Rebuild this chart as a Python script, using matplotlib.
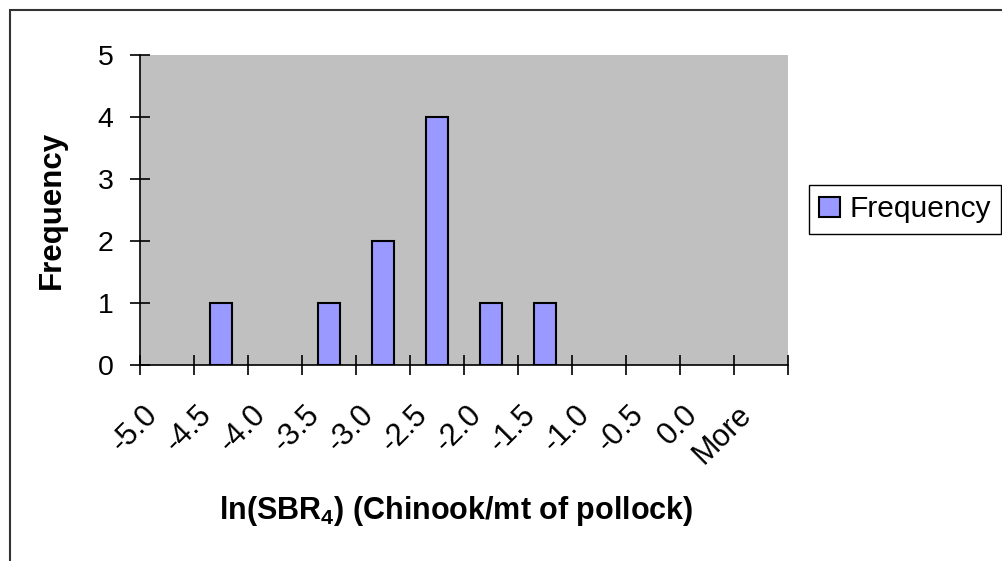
import numpy as np
import matplotlib
matplotlib.use("Agg")
import matplotlib.pyplot as plt
import matplotlib.transforms as mtransforms
from matplotlib.patches import Rectangle, Patch

plt.rcParams['font.family'] = ['Liberation Sans', 'DejaVu Sans']
plt.rcParams['mathtext.fontset'] = 'custom'
plt.rcParams['mathtext.rm'] = 'Liberation Sans'
plt.rcParams['mathtext.bf'] = 'Liberation Sans:bold'

# 数据
bins = ['-5.0', '-4.5', '-4.0', '-3.5', '-3.0', '-2.5', '-2.0', '-1.5', '-1.0', '-0.5', '0.0', 'More']
freq = [0, 1, 0, 1, 2, 4, 1, 1, 0, 0, 0, 0]

W, H = 1003, 561
fig = plt.figure(figsize=(W / 100, H / 100), dpi=100)
ax = fig.add_axes([140 / W, 1 - 365 / H, (788 - 140) / W, (365 - 55) / H])
ax.set_facecolor('#c0c0c0')

x = np.arange(len(bins))
bars = ax.bar(x, freq, width=0.42, color='#9999ff', edgecolor='black', linewidth=1.5, zorder=3)
# 高度为0的柱子不画边框
for b, v in zip(bars, freq):
    if v == 0:
        b.set_visible(False)

ax.set_xlim(-0.5, len(bins) - 0.5)
ax.set_ylim(0, 5)

for s in ['top', 'right']:
    ax.spines[s].set_visible(False)
for s in ['left', 'bottom']:
    ax.spines[s].set_linewidth(1.2)

# x轴: 刻度线在类别边界, 标签在类别中心
ax.set_xticks(x)
ax.set_xticklabels(bins, rotation=45, ha='right', va='top', fontsize=22)
ax.set_xticks(np.arange(-0.5, len(bins)), minor=True)
ax.tick_params(axis='x', which='major', length=0, pad=25)
ax.tick_params(axis='x', which='minor', direction='inout', length=14.4, width=1.2)
offset = mtransforms.ScaledTranslation(-0.03, 0, fig.dpi_scale_trans)
for lbl in ax.get_xticklabels():
    lbl.set_transform(lbl.get_transform() + offset)

ax.set_yticks(range(6))
ax.tick_params(axis='y', direction='inout', length=14.4, width=1.2, pad=12, labelsize=20.5)

ax.set_ylabel('Frequency', fontsize=22.5, fontweight='bold')
ax.yaxis.set_label_coords(-0.113, 0.5)
ax.set_xlabel(r'ln(SBR$_\mathbf{4}$) (Chinook/mt of pollock)', fontsize=22, fontweight='bold')
ax.xaxis.set_label_coords(0.488, -0.415)

handle = Patch(facecolor='#9999ff', edgecolor='black', linewidth=1.5)
leg = ax.legend([handle], ['Frequency'], loc='upper left', bbox_to_anchor=(809 / W, 1 - 185 / H),
                bbox_transform=fig.transFigure,
                fontsize=21.5, fancybox=False, edgecolor='black', framealpha=1,
                handlelength=0.7, handleheight=0.7, handletextpad=0.3, borderpad=0.35, borderaxespad=0)
leg.get_frame().set_linewidth(1.0)

# 外框
fig.patches.append(Rectangle((10 / W, -0.1), 1.2, 1.1 - 10 / H, transform=fig.transFigure,
                             fill=False, edgecolor='#333333', linewidth=1.5))

fig.savefig('out.png', dpi=100)
